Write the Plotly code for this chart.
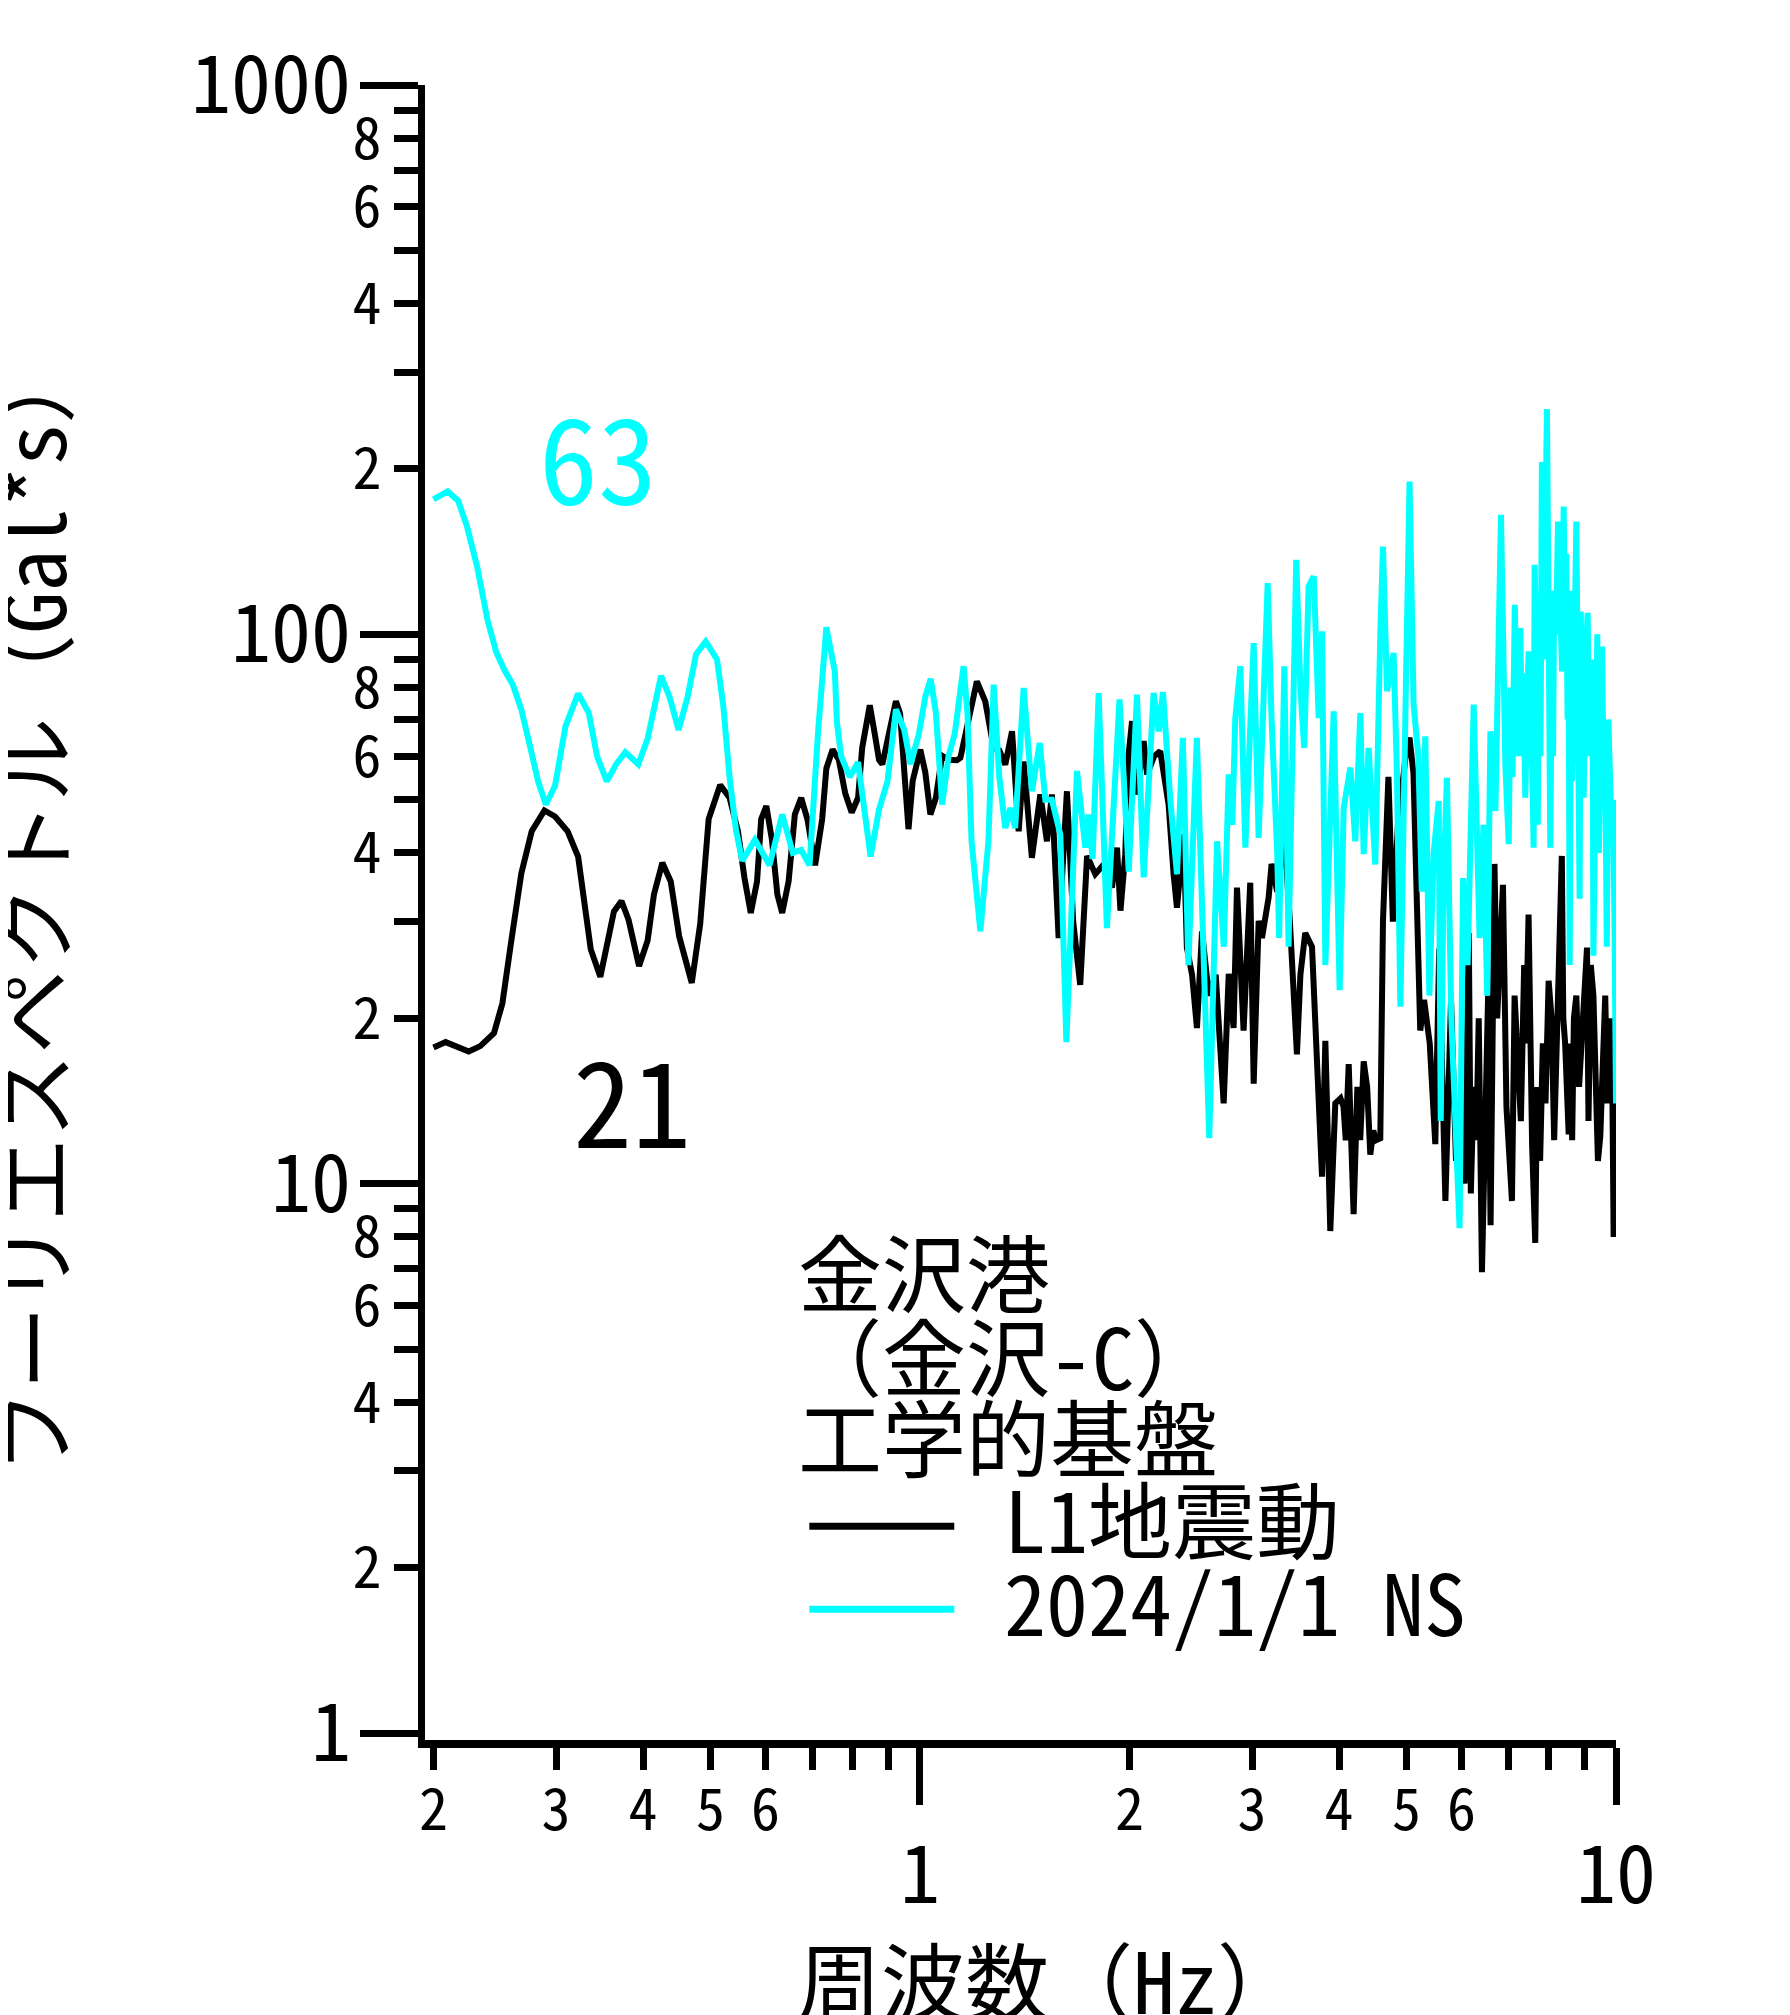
import plotly.graph_objects as go
import math

# ---------------- data ----------------
freq_l1 = [0.2, 0.2082, 0.2247, 0.2335, 0.2443, 0.2512, 0.2582, 0.2674, 0.2768, 0.2887,
           0.299, 0.3117, 0.3227, 0.3295, 0.3365, 0.3473, 0.3557, 0.3633, 0.3725, 0.3814,
           0.3948, 0.4061, 0.4147, 0.4264, 0.4384, 0.4508, 0.47, 0.4833, 0.497, 0.5163,
           0.5326, 0.5477, 0.5594, 0.5713, 0.5833, 0.5913, 0.6015, 0.6127, 0.6239, 0.6339,
           0.6475, 0.661, 0.675, 0.689, 0.7068, 0.7235, 0.7336, 0.749, 0.7645, 0.781,
           0.7978, 0.8148, 0.826, 0.847, 0.8613, 0.8733, 0.8829, 0.898, 0.9235, 0.9363,
           0.9493, 0.9627, 0.9761, 1.001, 1.0177, 1.035, 1.054, 1.076, 1.099, 1.13,
           1.143, 1.162, 1.207, 1.241, 1.276, 1.30, 1.326, 1.356, 1.386, 1.409,
           1.448, 1.489, 1.522, 1.547, 1.582, 1.626, 1.66, 1.699, 1.738, 1.786,
           1.836, 1.887, 1.919, 1.941, 1.972, 1.994, 2.017, 2.05, 2.096, 2.12,
           2.17, 2.214, 2.239, 2.276, 2.314, 2.34, 2.392, 2.418, 2.46, 2.5,
           2.542, 2.60, 2.66, 2.731, 2.777, 2.822, 2.854, 2.917, 2.982, 3.016,
           3.066, 3.10, 3.169, 3.20, 3.26, 3.337, 3.40, 3.48, 3.52, 3.577,
           3.658, 3.72, 3.781, 3.823, 3.886, 3.951, 4.02, 4.06, 4.09, 4.13,
           4.198, 4.25, 4.29, 4.34, 4.39, 4.436, 4.48, 4.52, 4.585, 4.626,
           4.71, 4.78, 4.86, 4.985, 5.05, 5.117, 5.185, 5.233, 5.30, 5.40,
           5.5, 5.572, 5.687, 5.794, 5.89, 5.986, 6.06, 6.145, 6.186, 6.245,
           6.30, 6.35, 6.418, 6.501, 6.55, 6.604, 6.69, 6.75, 6.82, 6.88,
           6.96, 7.0, 7.088, 7.15, 7.24, 7.30, 7.38, 7.42, 7.488, 7.577,
           7.656, 7.70, 7.78, 7.85, 7.92, 8.002, 8.08, 8.15, 8.20, 8.25,
           8.305, 8.359, 8.40, 8.451, 8.50, 8.551, 8.60, 8.65, 8.70, 8.77,
           8.85, 8.92, 9.0, 9.085, 9.13, 9.2, 9.28, 9.35, 9.42, 9.494,
           9.58, 9.65, 9.72, 9.8, 9.86, 9.922, 10.0]
amp_l1 = [17.7, 18.1, 17.4, 17.8, 18.8, 21.3, 27.2, 36.7, 43.8, 47.8,
          46.6, 43.8, 39.4, 32.4, 26.7, 23.8, 27.2, 31.3, 32.7, 30.2,
          24.9, 27.7, 33.6, 38.4, 35.5, 28.2, 23.2, 29.7, 46.1, 53.2,
          50.4, 43.8, 36.1, 31.1, 35.5, 46.1, 48.7, 42.3, 33.6, 31.1,
          35.5, 47.0, 50.4, 46.1, 38.0, 46.1, 57.0, 61.7, 59.1, 51.3,
          47.4, 50.4, 62.2, 74.3, 65.7, 59.1, 58.0, 64.5, 75.6, 71.7,
          54.1, 44.2, 54.1, 61.7, 56.1, 47.0, 50.4, 60.1, 59.1, 59.0,
          59.6, 65.2, 82.1, 75.5, 62.1, 61.5, 57.9, 66.6, 43.8, 58.7,
          39.2, 51.1, 42.0, 51.1, 28.0, 51.8, 30.0, 23.0, 39.5, 36.6,
          38.1, 34.6, 40.9, 31.4, 39.8, 60.4, 69.5, 51.1, 63.9, 55.6,
          60.0, 61.3, 55.6, 49.0, 36.6, 31.8, 43.2, 26.9, 24.0, 19.2,
          28.8, 22.0, 24.0, 14.0, 24.1, 19.2, 34.6, 19.0, 35.3, 15.2,
          30.1, 28.0, 33.2, 38.2, 34.0, 43.7, 30.0, 17.2, 24.0, 28.6,
          27.0, 17.0, 10.3, 18.2, 8.2, 14.0, 14.3, 13.8, 12.0, 16.5,
          8.8, 15.0, 12.0, 16.7, 15.0, 11.3, 12.5, 12.0, 12.1, 30.1,
          55.0, 30.0, 45.0, 59.8, 64.9, 55.9, 26.4, 19.0, 21.6, 18.0,
          11.8, 26.8, 9.3, 21.6, 11.0, 12.9, 10.0, 28.6, 9.6, 15.0,
          12.0, 20.0, 6.9, 15.3, 22.0, 8.4, 38.2, 20.0, 30.0, 35.0,
          13.8, 12.0, 9.3, 22.0, 15.5, 13.0, 25.0, 18.0, 30.9, 11.7,
          7.8, 15.0, 11.0, 18.0, 14.0, 23.4, 20.0, 12.0, 16.0, 24.0,
          29.3, 39.5, 20.0, 18.0, 14.0, 12.3, 18.0, 12.0, 20.0, 22.0,
          15.0, 18.0, 22.0, 26.9, 13.0, 25.0, 22.0, 16.0, 11.0, 12.2,
          18.0, 22.0, 14.0, 18.0, 20.0, 8.0, 14.3]

freq_ns = [0.2, 0.2096, 0.217, 0.2232, 0.231, 0.2392, 0.246, 0.253, 0.26, 0.2674,
           0.2749, 0.2827, 0.29, 0.299, 0.3095, 0.3227, 0.3342, 0.3436, 0.3548, 0.3659,
           0.3772, 0.3938, 0.4061, 0.4245, 0.4366, 0.45, 0.4636, 0.4767, 0.4922, 0.5109,
           0.5217, 0.5326, 0.5441, 0.5555, 0.5792, 0.6078, 0.634, 0.6567, 0.675, 0.694,
           0.7135, 0.7336, 0.7545, 0.7598, 0.7705, 0.7924, 0.8148, 0.8318, 0.8492, 0.8733,
           0.898, 0.9235, 0.9493, 0.9694, 0.9967, 1.0177, 1.036, 1.054, 1.076, 1.099,
           1.122, 1.155, 1.17, 1.186, 1.221, 1.254, 1.276, 1.30, 1.326, 1.348,
           1.37, 1.409, 1.448, 1.486, 1.514, 1.547, 1.591, 1.623, 1.681, 1.728,
           1.747, 1.77, 1.806, 1.856, 1.935, 1.995, 2.05, 2.096, 2.166, 2.203,
           2.234, 2.289, 2.34, 2.386, 2.43, 2.499, 2.56, 2.604, 2.672, 2.732,
           2.777, 2.81, 2.838, 2.886, 2.934, 3.016, 3.066, 3.159, 3.20, 3.26,
           3.281, 3.338, 3.385, 3.472, 3.52, 3.565, 3.617, 3.679, 3.74, 3.781,
           3.823, 3.93, 4.008, 4.062, 4.153, 4.221, 4.292, 4.34, 4.412, 4.51,
           4.586, 4.626, 4.688, 4.792, 4.845, 4.9, 4.97, 5.051, 5.119, 5.2,
           5.26, 5.321, 5.393, 5.47, 5.563, 5.6, 5.65, 5.716, 5.8, 5.96,
           6.03, 6.12, 6.245, 6.368, 6.45, 6.53, 6.6, 6.71, 6.835, 6.934,
           7.013, 7.05, 7.10, 7.155, 7.18, 7.22, 7.25, 7.287, 7.33, 7.36,
           7.407, 7.44, 7.489, 7.55, 7.58, 7.614, 7.64, 7.68, 7.72, 7.75,
           7.79, 7.826, 7.87, 7.92, 7.958, 8.0, 8.046, 8.09, 8.12, 8.15,
           8.2, 8.254, 8.3, 8.365, 8.41, 8.45, 8.48, 8.52, 8.55, 8.58,
           8.62, 8.646, 8.70, 8.73, 8.77, 8.82, 8.866, 8.9, 8.94, 8.985,
           9.05, 9.105, 9.15, 9.2, 9.25, 9.28, 9.338, 9.40, 9.45, 9.5,
           9.55, 9.598, 9.65, 9.7, 9.75, 9.85, 9.9, 9.95, 10.0]
amp_ns = [176, 182, 175, 158, 133, 106, 93, 86, 81, 73,
          63, 54, 49, 53, 68, 78, 72, 60, 54, 58,
          61, 58, 64.5, 84, 77, 67, 77, 92, 97, 90,
          74, 55, 44, 38.7, 42.3, 38, 47, 40, 40.5, 38,
          66, 103, 85.5, 69, 60, 55, 58.5, 48, 39.4, 48,
          54, 73, 67, 58, 66, 77, 83, 72, 49, 60,
          66, 87.5, 72, 42, 28.8, 42, 81, 55, 44.4, 48.3,
          44.4, 79.9, 51.8, 63.4, 50, 50, 43.2, 18.1, 56.4, 40.9,
          47, 39, 78.2, 29.2, 76.1, 37, 77.7, 36.1, 78.2, 66.6,
          78.5, 50, 36.6, 64.8, 25, 64.8, 26, 12.1, 42, 27,
          55.6, 45, 70.4, 87.5, 40.9, 96.4, 42.6, 124, 70, 40,
          28, 87.5, 27, 136.7, 80, 62.1, 122.3, 127.5, 70.4, 101.3,
          25, 72.4, 22.5, 48.3, 57.2, 42, 71.9, 39.8, 62.1, 38.1,
          101, 144.5, 78.8, 92.5, 55.6, 21, 60, 189.8, 74.5, 60,
          34, 65.2, 22, 40, 49.7, 13, 35, 54.8, 20, 8.3,
          36, 25, 74.5, 28, 45, 22, 66.6, 47.7, 165, 58,
          41.5, 80, 55, 113.2, 90, 60, 70, 102.7, 60, 85,
          50.4, 70, 93.1, 75, 55, 40.9, 133.9, 95, 45, 110,
          60, 206, 90, 150, 257, 110, 40.9, 95, 60, 120,
          100, 160.5, 110, 85.6, 170.9, 100, 140, 70, 90, 25,
          120, 54, 80, 130, 160.5, 70, 33, 110, 65, 50.4,
          90, 109.4, 60, 75, 90, 26, 71.4, 100, 40, 70,
          95, 54.4, 60, 27, 70, 45, 50, 30, 14]

y_major = [1, 10, 100, 1000]
y_major_text = ["1", "10", "100", "1000"]
y_minor = [m * d for d in (1, 10, 100) for m in range(2, 10)]
y_minor_text = [str(m) if m in (2, 4, 6, 8) else "" for d in (1, 10, 100) for m in range(2, 10)]
x_major = [1, 10]
x_major_text = ["1", "10"]
x_minor = [m * d for d in (0.1, 1) for m in range(2, 10)]
x_minor_text = [str(m) if m <= 6 else "" for d in (0.1, 1) for m in range(2, 10)]

series_names = ["L1地震動", "2024/1/1 NS"]
series_colors = ["#000000", "#00FFFF"]
peak_labels = ["21", "63"]
header_lines = ["金沢港", "（金沢-C）", "工学的基盤"]
x_title = "周波数（Hz）"
y_title = "フーリエスペクトル（Gal*s）"

# ---------------- layout geometry (page pixels; body has an 8px margin) ----------------
OFF = 8
W, H = 1790 - OFF, 2015 - OFF
ML, MR, MT, MB = 416.5, 174, 75, 275
PW, PH = W - ML - MR, H - MT - MB

def px(x):
    return (x - OFF - ML) / PW

def py(y):
    return (H - MB - (y - OFF)) / PH

FONT = "Noto Sans Mono CJK JP, Noto Sans CJK JP, sans-serif"

fig = go.Figure()
for f, a, n, c in zip([freq_l1, freq_ns], [amp_l1, amp_ns], series_names, series_colors):
    fig.add_trace(go.Scatter(x=f, y=a, mode="lines", name=n,
                             line=dict(color=c, width=6)))

xr = [math.log10(0.2) - (433 - 421 - 3.5) / 696.0, 1.0]
yr = [3 - PH / 550.0, 3.0]

fig.update_layout(
    width=W, height=H, autosize=False,
    margin=dict(l=ML, r=MR, t=MT, b=MB, pad=0),
    paper_bgcolor="white", plot_bgcolor="white",
    showlegend=False,
    xaxis=dict(type="log", range=xr, showgrid=False, zeroline=False,
               showline=True, linecolor="black", linewidth=8,
               ticks="outside", tickvals=x_major, ticktext=x_major_text,
               ticklen=57, tickwidth=7, tickcolor="black",
               tickfont=dict(family=FONT, size=80, color="black"),
               ticklabelstandoff=2),
    xaxis2=dict(type="log", range=xr, overlaying="x", anchor="y", side="bottom",
                showgrid=False, zeroline=False, showline=False,
                ticks="outside", tickvals=x_minor, ticktext=x_minor_text,
                ticklen=29, tickwidth=7, tickcolor="black",
                tickfont=dict(family=FONT, size=58, color="black"),
                ticklabelstandoff=-10),
    yaxis=dict(type="log", range=yr, showgrid=False, zeroline=False,
               showline=True, linecolor="black", linewidth=7,
               ticks="outside", tickvals=y_major, ticktext=y_major_text,
               ticklen=58, tickwidth=7, tickcolor="black",
               tickfont=dict(family=FONT, size=80, color="black"),
               ticklabelstandoff=-7),
    yaxis2=dict(type="log", range=yr, overlaying="y", anchor="x", side="left",
                showgrid=False, zeroline=False, showline=False,
                ticks="outside", tickvals=y_minor, ticktext=y_minor_text,
                ticklen=30, tickwidth=7, tickcolor="black",
                tickfont=dict(family=FONT, size=58, color="black"),
                ticklabelstandoff=1),
)
# empty trace attaching the minor-tick overlay axes
fig.add_trace(go.Scatter(x=[], y=[], xaxis="x2", yaxis="y2", showlegend=False, hoverinfo="skip"))

ann = []
ann.append(dict(x=px(632), y=py(1096), xref="paper", yref="paper", text=peak_labels[0],
                showarrow=False, xanchor="center", yanchor="middle",
                font=dict(family=FONT, size=118, color=series_colors[0])))
ann.append(dict(x=px(598), y=py(452), xref="paper", yref="paper", text=peak_labels[1],
                showarrow=False, xanchor="center", yanchor="middle",
                font=dict(family=FONT, size=118, color=series_colors[1])))
for txt, yy in zip(header_lines, [1269, 1353, 1434]):
    ann.append(dict(x=px(796), y=py(yy), xref="paper", yref="paper", text=txt,
                    showarrow=False, xanchor="left", yanchor="middle",
                    font=dict(family=FONT, size=84, color="black")))
for txt, ty, ly, col in zip(series_names, [1516, 1599], [1526, 1609], series_colors):
    ann.append(dict(x=px(1002), y=py(ty), xref="paper", yref="paper", text=txt,
                    showarrow=False, xanchor="left", yanchor="middle",
                    font=dict(family=FONT, size=84, color="black")))
    fig.add_shape(type="line", xref="paper", yref="paper",
                  x0=px(809), x1=px(954), y0=py(ly), y1=py(ly),
                  line=dict(color=col, width=7))
ann.append(dict(x=px(795), y=py(1978), xref="paper", yref="paper", text=x_title,
                showarrow=False, xanchor="left", yanchor="middle",
                font=dict(family=FONT, size=84, color="black")))
ann.append(dict(x=px(28), y=py(906), xref="paper", yref="paper",
                text=y_title, textangle=-90,
                showarrow=False, xanchor="center", yanchor="middle",
                font=dict(family=FONT, size=84, color="black")))
fig.update_layout(annotations=ann)

fig.write_html("out.html")
